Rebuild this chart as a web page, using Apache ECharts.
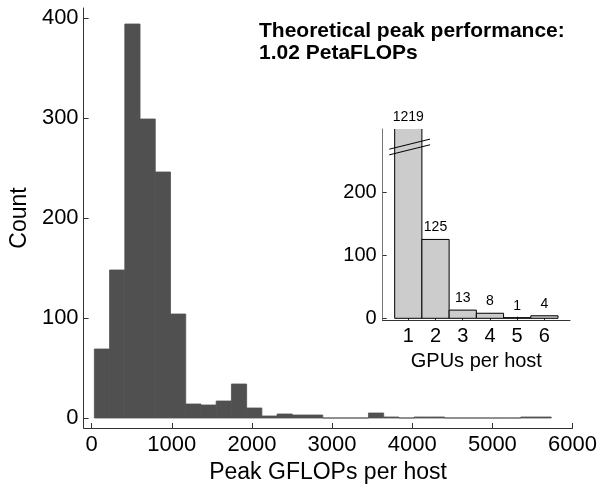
<!DOCTYPE html>
<html>
<head>
<meta charset="utf-8">
<script src="https://cdn.jsdelivr.net/npm/echarts@6/dist/echarts.min.js"></script>
<style>
html, body { margin: 0; padding: 0; background: #fff; }
#chart { width: 600px; height: 489px; }
</style>
</head>
<body>
<div id="chart"></div>
<script>
// main histogram: peak GFLOPs per host, 30 equal bins
var binStart = 34;
var binWidth = 190;
var hostCounts = [69, 148, 394, 299, 246, 104, 14, 13, 17, 34, 10, 2, 4, 3, 3, 0, 0, 0, 5, 1, 0, 1, 1, 0, 0, 0, 0, 0, 1, 1];
var xTicks = [0, 1000, 2000, 3000, 4000, 5000, 6000];
var yTicks = [0, 100, 200, 300, 400];

// inset: number of GPUs per host
var gpuCategories = [1, 2, 3, 4, 5, 6];
var gpuHosts = [1219, 125, 13, 8, 1, 4];
var insetYTicks = [0, 100, 200];
var insetYMax = 300;
// break marks drawn over the clipped first bar: [x0, y0, x1, y1]
var breakMarks = [[0.3, 268, 1.8, 284], [0.3, 259, 1.8, 275]];

var font = 'Liberation Sans, Arial, Helvetica, sans-serif';
var axisColor = '#333';

var histData = hostCounts.map(function (c, i) {
    return [binStart + i * binWidth, binStart + (i + 1) * binWidth, c];
});
var gpuData = gpuCategories.map(function (c, i) {
    return [c, gpuHosts[i]];
});

// plain numbers, no thousands separator
function plain(v) {
    return String(v);
}

function baseAxis(extra) {
    var a = {
        type: 'value',
        axisLine: { show: true, onZero: false, lineStyle: { color: axisColor, width: 1 } },
        axisTick: { show: true, inside: true, length: 5, lineStyle: { color: axisColor } },
        splitLine: { show: false },
        axisLabel: { color: '#000', fontFamily: font, fontSize: 22, formatter: plain },
        nameTextStyle: { color: '#000', fontFamily: font, fontSize: 23 },
        nameLocation: 'middle'
    };
    for (var k in extra) {
        if (typeof extra[k] === 'object' && a[k]) {
            for (var j in extra[k]) a[k][j] = extra[k][j];
        } else {
            a[k] = extra[k];
        }
    }
    return a;
}

var myChart = echarts.init(document.getElementById('chart'), null, { renderer: 'canvas' });

var option = {
    animation: false,
    backgroundColor: '#fff',
    title: {
        text: 'Theoretical peak performance:\n1.02 PetaFLOPs',
        left: 259,
        top: 20,
        padding: 0,
        textStyle: { fontFamily: font, fontSize: 21, fontWeight: 'bold', color: '#000', lineHeight: 22 }
    },
    grid: [
        { left: 81, top: 8, width: 491.7, height: 420 },
        { left: 382.7, top: 129, width: 187.3, height: 191.7 }
    ],
    xAxis: [
        baseAxis({
            gridIndex: 0, min: -100, max: 6000,
            name: 'Peak GFLOPs per host', nameGap: 33,
            axisTick: { customValues: xTicks },
            axisLabel: { customValues: xTicks, margin: 6 }
        }),
        baseAxis({
            gridIndex: 1, min: 0.06, max: 6.94,
            name: 'GPUs per host', nameGap: 31,
            axisTick: { customValues: gpuCategories, length: 4 },
            axisLabel: { customValues: gpuCategories, margin: 6, fontSize: 20 },
            nameTextStyle: { fontSize: 20 }
        })
    ],
    yAxis: [
        baseAxis({
            gridIndex: 0, min: -10, max: 410,
            name: 'Count', nameGap: 50,
            axisTick: { customValues: yTicks },
            axisLabel: { customValues: yTicks, margin: 5 }
        }),
        baseAxis({
            gridIndex: 1, min: -3.8, max: insetYMax,
            axisLine: { lineStyle: { color: '#777' } },
            axisTick: { customValues: insetYTicks, length: 4 },
            axisLabel: { customValues: insetYTicks, margin: 6, fontSize: 20 }
        })
    ],
    series: [
        {
            // histogram bars
            type: 'custom',
            xAxisIndex: 0,
            yAxisIndex: 0,
            data: histData,
            renderItem: function (params, api) {
                var p0 = api.coord([api.value(0), 0]);
                var p1 = api.coord([api.value(1), api.value(2)]);
                return {
                    type: 'rect',
                    shape: { x: p0[0], y: p1[1], width: p1[0] - p0[0], height: p0[1] - p1[1] },
                    style: { fill: '#505050', stroke: '#505050', lineWidth: 0.8 }
                };
            }
        },
        {
            // inset bars, first one clipped at the top
            type: 'custom',
            xAxisIndex: 1,
            yAxisIndex: 1,
            clip: true,
            data: gpuData,
            renderItem: function (params, api) {
                var x = api.value(0);
                var p0 = api.coord([x - 0.5, 0]);
                var p1 = api.coord([x + 0.5, api.value(1)]);
                return {
                    type: 'rect',
                    shape: { x: p0[0], y: p1[1], width: p1[0] - p0[0], height: p0[1] - p1[1] },
                    style: { fill: '#cccccc', stroke: '#000', lineWidth: 1 }
                };
            }
        },
        {
            // value labels above inset bars
            type: 'custom',
            xAxisIndex: 1,
            yAxisIndex: 1,
            clip: false,
            data: gpuData,
            renderItem: function (params, api) {
                var v = api.value(1);
                var p = api.coord([api.value(0), Math.min(v, insetYMax)]);
                return {
                    type: 'text',
                    x: p[0],
                    y: p[1] - 5,
                    style: {
                        text: String(v),
                        fontFamily: font,
                        fontSize: 14,
                        fill: '#000',
                        align: 'center',
                        verticalAlign: 'bottom'
                    }
                };
            }
        },
        {
            // axis-break marks
            type: 'custom',
            xAxisIndex: 1,
            yAxisIndex: 1,
            clip: false,
            data: breakMarks,
            z: 5,
            renderItem: function (params, api) {
                var a = api.coord([api.value(0), api.value(1)]);
                var b = api.coord([api.value(2), api.value(3)]);
                return {
                    type: 'line',
                    shape: { x1: a[0], y1: a[1], x2: b[0], y2: b[1] },
                    style: { stroke: '#000', lineWidth: 1 }
                };
            }
        }
    ]
};

myChart.setOption(option);
</script>
</body>
</html>
